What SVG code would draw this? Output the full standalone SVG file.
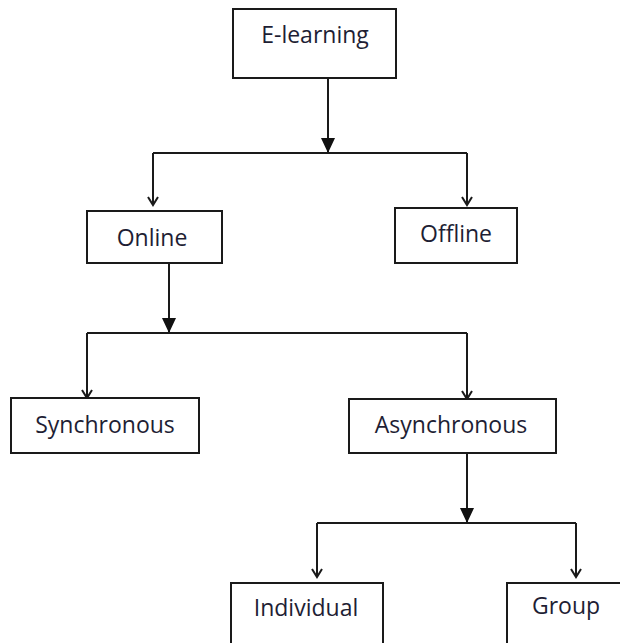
<svg xmlns="http://www.w3.org/2000/svg" width="620" height="643" viewBox="0 0 620 643">
<style>
.box{fill:#fff;stroke:#1a1a1a;stroke-width:2}
.lbl{font-family:"Open Sans","Noto Sans",sans-serif;font-size:23px;fill:#1e1e34;text-anchor:middle}
.ln{fill:none;stroke:#1a1a1a;stroke-width:2}
</style>
<defs>
<marker id="open" viewBox="-10 -7 12 14" markerWidth="12" markerHeight="14" refX="0" refY="0" orient="auto" markerUnits="userSpaceOnUse" overflow="visible">
<path d="M-8,-5 L0,0 L-8,5" fill="none" stroke="#1a1a1a" stroke-width="2"/>
</marker>
<marker id="fill" viewBox="-16 -8 17 16" markerWidth="17" markerHeight="16" refX="0" refY="0" orient="auto" markerUnits="userSpaceOnUse" overflow="visible">
<path d="M-15,-7 L0,0 L-15,7 Z" fill="#111"/>
</marker>
</defs>
<g id="connectors">
<path class="ln" d="M328,78 V153" marker-end="url(#fill)"/>
<path class="ln" d="M153,153 H467"/>
<path class="ln" d="M153,153 V205" marker-end="url(#open)"/>
<path class="ln" d="M467,153 V205" marker-end="url(#open)"/>
<path class="ln" d="M169,263 V333" marker-end="url(#fill)"/>
<path class="ln" d="M87,333 H467"/>
<path class="ln" d="M87,333 V398" marker-end="url(#open)"/>
<path class="ln" d="M467,333 V399" marker-end="url(#open)"/>
<path class="ln" d="M467,453 V523" marker-end="url(#fill)"/>
<path class="ln" d="M317,523 H576"/>
<path class="ln" d="M317,523 V577" marker-end="url(#open)"/>
<path class="ln" d="M576,523 V577" marker-end="url(#open)"/>
</g>
<g id="elearning"><rect class="box" x="233" y="9" width="163" height="69"/><text class="lbl" x="315" y="43">E-learning</text></g>
<g id="online"><rect class="box" x="87" y="211" width="135" height="52"/><text class="lbl" x="152" y="246">Online</text></g>
<g id="offline"><rect class="box" x="395" y="208" width="122" height="55"/><text class="lbl" x="456" y="242">Offline</text></g>
<g id="synchronous"><rect class="box" x="11" y="398" width="188" height="55"/><text class="lbl" x="105" y="433">Synchronous</text></g>
<g id="asynchronous"><rect class="box" x="349" y="399" width="207" height="54"/><text class="lbl" x="451" y="433">Asynchronous</text></g>
<g id="individual"><rect class="box" x="231" y="583" width="152" height="70"/><text class="lbl" x="306" y="616">Individual</text></g>
<g id="group"><rect class="box" x="507" y="583" width="120" height="70"/><text class="lbl" x="566" y="614">Group</text></g>
</svg>
